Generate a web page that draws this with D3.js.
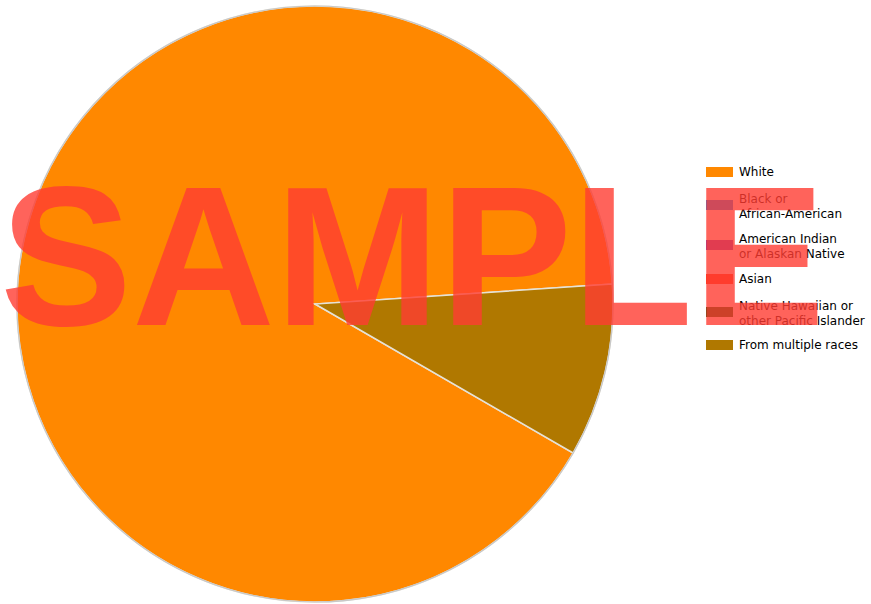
<!DOCTYPE html>
<html><head><meta charset="utf-8">
<script src="https://cdn.jsdelivr.net/npm/d3@7"></script>
<style>html,body{margin:0;padding:0;background:#fff;}svg{display:block;}</style>
</head><body>
<svg id="chart" width="871" height="604"></svg>
<script>
const categories = ["White", "Black or African-American", "American Indian or Alaskan Native", "Asian", "Native Hawaiian or other Pacific Islander", "From multiple races"];
const legendLines = [["White"], ["Black or", "African-American"], ["American Indian", "or Alaskan Native"], ["Asian"], ["Native Hawaiian or", "other Pacific Islander"], ["From multiple races"]];
const values = [90.6, 0, 0, 0, 0, 9.4];
const colors = ["#ff8800", "#0a82fa", "#6a3cc8", "#ff3c19", "#005500", "#b07800"];

const svg = d3.select("#chart");
const cx = 315, cy = 304, r = 298;

const pie = d3.pie().sort(null).value(d => d)
  .startAngle(2 * Math.PI / 3).endAngle(2 * Math.PI / 3 + 2 * Math.PI);
const arc = d3.arc().innerRadius(0).outerRadius(r);

const g = svg.append("g").attr("transform", `translate(${cx},${cy})`);
g.selectAll("path.slice").data(pie(values)).enter().append("path")
  .attr("class", "slice")
  .attr("d", arc)
  .attr("fill", (d, i) => colors[i])
  .attr("stroke", "#e6e2d6")
  .attr("stroke-width", d => d.value > 0 ? 1.5 : 0);
g.append("circle").attr("r", r).attr("fill", "none").attr("stroke", "#c8c8c8").attr("stroke-width", 1.2);

// legend
const legendY = d3.scaleOrdinal().domain(categories).range([172, 205, 245, 279, 312, 345]);
const lg = svg.append("g").attr("font-family", "DejaVu Sans, sans-serif").attr("font-size", 12).attr("fill", "#000");
categories.forEach((c, i) => {
  const y = legendY(c);
  lg.append("rect").attr("x", 706).attr("y", y - 5).attr("width", 27).attr("height", 10).attr("fill", colors[i]);
  const lines = legendLines[i];
  const t = lg.append("text").attr("x", 739);
  if (lines.length === 1) {
    t.append("tspan").attr("x", 739).attr("y", y + 4).text(lines[0]);
  } else {
    t.append("tspan").attr("x", 739).attr("y", y - 2).text(lines[0]);
    t.append("tspan").attr("x", 739).attr("y", y + 13).text(lines[1]);
  }
});

// watermark
svg.append("text").attr("x", 0).attr("y", 325)
  .attr("font-family", "Liberation Sans, Arial, sans-serif").attr("font-weight", "bold")
  .attr("font-size", 198).attr("fill", "rgb(255,60,50)").attr("fill-opacity", 0.8)
  .text("SAMPLE");
</script>
</body></html>
